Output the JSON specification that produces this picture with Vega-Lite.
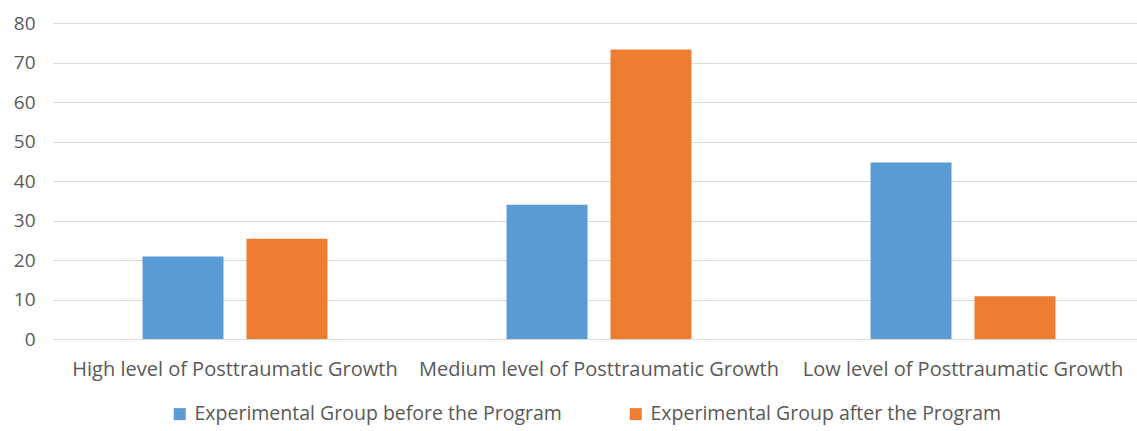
{
  "$schema": "https://vega.github.io/schema/vega-lite/v6.json",
  "autosize": "none",
  "padding": {"left": 53, "top": 23, "right": 0, "bottom": 92},
  "width": 1084,
  "height": 316,
  "background": "#ffffff",
  "config": {
    "view": {"stroke": null},
    "font": "Open Sans",
    "axis": {"labelFont": "Open Sans", "labelColor": "#595959"},
    "legend": {"labelFont": "Open Sans", "labelColor": "#595959"}
  },
  "data": {
    "values": [
      {"level": "High level of Posttraumatic Growth", "group": "Experimental Group before the Program", "value": 20.9},
      {"level": "High level of Posttraumatic Growth", "group": "Experimental Group after the Program", "value": 25.4},
      {"level": "Medium level of Posttraumatic Growth", "group": "Experimental Group before the Program", "value": 34},
      {"level": "Medium level of Posttraumatic Growth", "group": "Experimental Group after the Program", "value": 73.3},
      {"level": "Low level of Posttraumatic Growth", "group": "Experimental Group before the Program", "value": 44.7},
      {"level": "Low level of Posttraumatic Growth", "group": "Experimental Group after the Program", "value": 10.8}
    ]
  },
  "mark": {"type": "bar"},
  "encoding": {
    "x": {
      "field": "level",
      "type": "nominal",
      "sort": null,
      "title": null,
      "scale": {"range": [0, 1092], "paddingInner": 0.492, "paddingOuter": 0.246},
      "axis": {
        "labelAngle": 0,
        "labelFontSize": 20,
        "labelPadding": 20,
        "labelLimit": 600,
        "ticks": false,
        "domain": false,
        "grid": false
      }
    },
    "xOffset": {
      "field": "group",
      "type": "nominal",
      "sort": null,
      "scale": {"paddingInner": 0.221, "paddingOuter": 0}
    },
    "y": {
      "field": "value",
      "type": "quantitative",
      "title": null,
      "scale": {"domain": [0, 80], "nice": false},
      "axis": {
        "values": [0, 10, 20, 30, 40, 50, 60, 70, 80],
        "labelFontSize": 19,
        "labelPadding": 18,
        "ticks": false,
        "domain": false,
        "gridColor": "#d9d9d9",
        "gridWidth": 1.2
      }
    },
    "color": {
      "field": "group",
      "type": "nominal",
      "sort": null,
      "scale": {"range": ["#5b9bd5", "#ed7d31"]},
      "legend": {
        "title": null,
        "orient": "none",
        "direction": "horizontal",
        "legendX": 117,
        "legendY": 381,
        "symbolType": "square",
        "symbolSize": 144,
        "symbolStrokeWidth": 0,
        "labelFontSize": 19.5,
        "labelOffset": 5,
        "columnPadding": 64,
        "labelLimit": 600
      }
    }
  }
}
